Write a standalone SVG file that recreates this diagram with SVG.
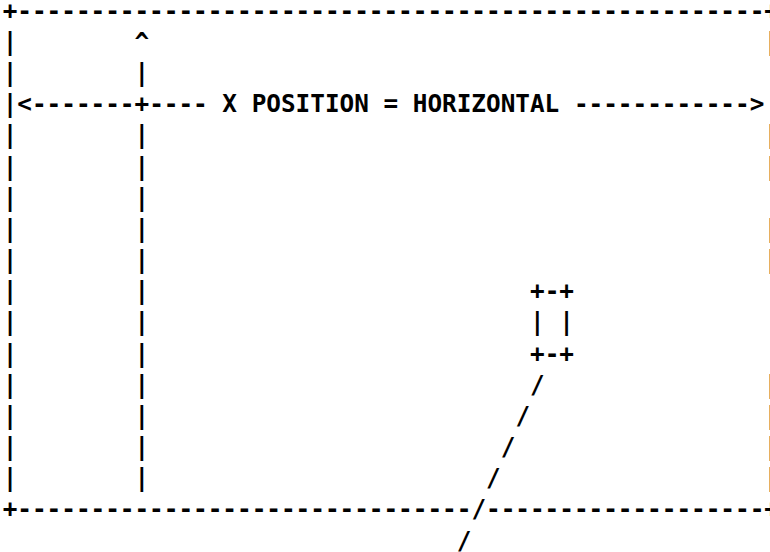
<svg xmlns="http://www.w3.org/2000/svg" width="770" height="552" viewBox="0 0 770 552">
<style>
text { font-family: "DejaVu Sans Mono", "Liberation Mono", monospace; font-size: 24.33px; font-weight: bold; fill: #000; white-space: pre; }
</style>
<rect width="770" height="552" fill="#fff"/>
<g id="frame">
<text x="2.67" y="18.6" xml:space="preserve">+---------------------------------------------------+</text>
<text>
<tspan x="2.67" y="49.8">|</tspan><tspan x="2.67" y="80.9">|</tspan><tspan x="2.67" y="112.1">|</tspan><tspan x="2.67" y="143.3">|</tspan><tspan x="2.67" y="174.5">|</tspan><tspan x="2.67" y="205.6">|</tspan><tspan x="2.67" y="236.8">|</tspan><tspan x="2.67" y="268.0">|</tspan><tspan x="2.67" y="299.1">|</tspan><tspan x="2.67" y="330.3">|</tspan><tspan x="2.67" y="361.5">|</tspan><tspan x="2.67" y="392.6">|</tspan><tspan x="2.67" y="423.8">|</tspan><tspan x="2.67" y="455.0">|</tspan><tspan x="2.67" y="486.2">|</tspan>
</text>
<text>
<tspan x="763.7" y="49.8">|</tspan><tspan x="763.7" y="143.3">|</tspan><tspan x="763.7" y="174.5">|</tspan><tspan x="763.7" y="236.8">|</tspan><tspan x="763.7" y="268.0">|</tspan><tspan x="763.7" y="392.6">|</tspan><tspan x="763.7" y="423.8">|</tspan><tspan x="763.7" y="455.0">|</tspan><tspan x="763.7" y="486.2">|</tspan>
</text>
<text x="2.67" y="517.3" xml:space="preserve">+------------------------------- -------------------+</text>
</g>
<g id="y-axis">
<text>
<tspan x="134.5" y="49.8">^</tspan><tspan x="134.5" y="80.9">|</tspan><tspan x="134.5" y="112.1">+</tspan><tspan x="134.5" y="143.3">|</tspan><tspan x="134.5" y="174.5">|</tspan><tspan x="134.5" y="205.6">|</tspan><tspan x="134.5" y="236.8">|</tspan><tspan x="134.5" y="268.0">|</tspan><tspan x="134.5" y="299.1">|</tspan><tspan x="134.5" y="330.3">|</tspan><tspan x="134.5" y="361.5">|</tspan><tspan x="134.5" y="392.6">|</tspan><tspan x="134.5" y="423.8">|</tspan><tspan x="134.5" y="455.0">|</tspan><tspan x="134.5" y="486.2">|</tspan>
</text>
</g>
<g id="x-axis">
<text x="17.32" y="112.1" xml:space="preserve">&lt;-------</text>
<text x="149.15" y="112.1" xml:space="preserve">---- X POSITION = HORIZONTAL ------------&gt;</text>
</g>
<g id="marker-box">
<text x="530.07" y="299.1" xml:space="preserve">+-+</text>
<text x="530.07" y="330.3" xml:space="preserve">| |</text>
<text x="530.07" y="361.5" xml:space="preserve">+-+</text>
</g>
<g id="pointer">
<text>
<tspan x="530.07" y="392.6">/</tspan><tspan x="515.42" y="423.8">/</tspan><tspan x="500.77" y="455.0">/</tspan><tspan x="486.12" y="486.2">/</tspan><tspan x="471.47" y="517.3">/</tspan><tspan x="456.82" y="548.5">/</tspan>
</text>
</g>
</svg>
